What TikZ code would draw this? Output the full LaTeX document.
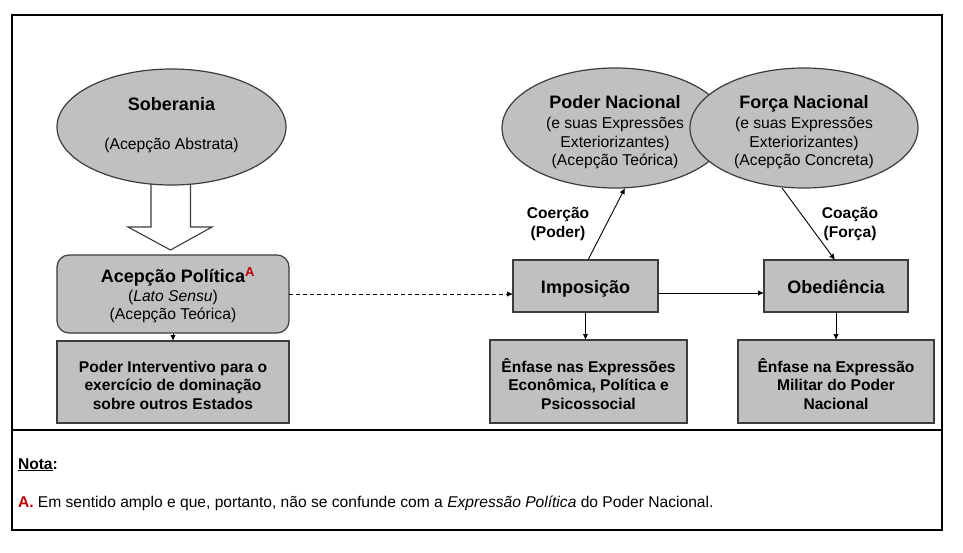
\documentclass[tikz,border=0pt]{standalone}
\usepackage{fontspec}
\setmainfont{Liberation Sans}
\usetikzlibrary{shapes.geometric,arrows.meta,calc}
\definecolor{boxgray}{HTML}{C0C0C0}
\definecolor{edgegray}{HTML}{3C3C3C}
\definecolor{notered}{HTML}{C00000}
\newcommand\ttlfont{\fontsize{18}{21}\selectfont\bfseries}
\newcommand\regfont{\fontsize{15.7}{19}\selectfont}
\newcommand\bxtfont{\fontsize{15.6}{18.5}\selectfont\bfseries}
\newcommand\notefont{\fontsize{15.6}{19}\selectfont}
\begin{document}
\begin{tikzpicture}[x=1pt,y=-1pt,
  shapebox/.style={draw=edgegray, fill=boxgray, line width=1.2pt, inner sep=0pt, outer sep=0pt},
  oval/.style={ellipse, shapebox},
  txt/.style={anchor=base, inner sep=0pt, outer sep=0pt},
  arr/.style={-{Latex[length=6pt,width=5.5pt]}, line width=0.9pt, draw=black}
]
\useasboundingbox (0,0) rectangle (963,552);
% frame
\draw[line width=1.1pt] (12,15) rectangle (942,530);
\draw[line width=1.1pt] (12,430) -- (942,430);

% hollow arrow
\draw[draw=edgegray, fill=white, line width=1.1pt] (151,178) -- (151,227) -- (128,227) -- (170.5,250) -- (212,227) -- (190.5,227) -- (190.5,178);

% shapes
\node[oval, minimum width=229pt, minimum height=116pt] (sob) at (171.5,127) {};
\node[shapebox, rounded corners=12pt, minimum width=232pt, minimum height=78pt] (acep) at (173,294) {};
\node[shapebox, minimum width=232pt, minimum height=82pt] (pi) at (173,382) {};
\node[shapebox, minimum width=145pt, minimum height=52pt] (imp) at (585.5,286) {};
\node[shapebox, minimum width=144pt, minimum height=52pt] (obe) at (836,286) {};
\node[shapebox, minimum width=197pt, minimum height=83pt] (e1) at (588.5,381.5) {};
\node[shapebox, minimum width=196pt, minimum height=83pt] (e2) at (836,381.5) {};
\node[oval, minimum width=226pt, minimum height=120pt] (pn) at (615,128) {};
\node[oval, minimum width=228pt, minimum height=120pt] (fn) at (804,128) {};

% texts
\node[txt] (sobt) at (171.5,110) {\ttlfont Soberania};
\node[txt] (sobs) at (171.5,149) {\regfont (Acepção Abstrata)};

\node[txt] (acept) at (173,282) {\ttlfont Acepção Política\rlap{\raisebox{6pt}{\fontsize{13}{13}\selectfont\bfseries\color{notered}A}}};
\node[txt] (aceps) at (173,301) {\regfont (\textit{Lato Sensu})};
\node[txt] (acepu) at (173,319) {\regfont (Acepção Teórica)};

\node[txt] (pia) at (173,372) {\bxtfont Poder Interventivo para o};
\node[txt] (pib) at (173,390.5) {\bxtfont exercício de dominação};
\node[txt] (pic) at (173,409) {\bxtfont sobre outros Estados};

\node[txt] (impt) at (585.5,293) {\ttlfont Imposição};
\node[txt] (obet) at (836,293) {\ttlfont Obediência};

\node[txt] (e1a) at (588.5,372) {\bxtfont Ênfase nas Expressões};
\node[txt] (e1b) at (588.5,390.5) {\bxtfont Econômica, Política e};
\node[txt] (e1c) at (588.5,409) {\bxtfont Psicossocial};

\node[txt] (e2a) at (836,372) {\bxtfont Ênfase na Expressão};
\node[txt] (e2b) at (836,390.5) {\bxtfont Militar do Poder};
\node[txt] (e2c) at (836,409) {\bxtfont Nacional};

\node[txt] (pna) at (615,108) {\ttlfont Poder Nacional};
\node[txt] (pnb) at (615,128) {\regfont (e suas Expressões};
\node[txt] (pnc) at (615,147) {\regfont Exteriorizantes)};
\node[txt] (pnd) at (615,165) {\regfont (Acepção Teórica)};

\node[txt] (fna) at (804,108) {\ttlfont Força Nacional};
\node[txt] (fnb) at (804,128) {\regfont (e suas Expressões};
\node[txt] (fnc) at (804,147) {\regfont Exteriorizantes)};
\node[txt] (fnd) at (804,165) {\regfont (Acepção Concreta)};

\node[txt] (coa) at (558,218) {\bxtfont Coerção};
\node[txt] (cob) at (558,237) {\bxtfont (Poder)};
\node[txt] (cfa) at (850,218) {\bxtfont Coação};
\node[txt] (cfb) at (850,237) {\bxtfont (Força)};

\node[txt, anchor=base west] (nota) at (18,469) {\notefont\bfseries\underline{Nota}:};
\node[txt, anchor=base west] (notea) at (18,507) {\notefont{\color{notered}\bfseries A.} Em sentido amplo e que, portanto, não se confunde com a \textit{Expressão Política} do Poder Nacional.};

% connectors
\draw[arr] (acep.south) -- (pi.north);
\draw[arr, dash pattern=on 4pt off 3pt] (acep.east) -- (acep.east -| imp.west);
\draw[arr] ([yshift=-7pt]imp.east) -- ([yshift=-7pt]obe.west);
\draw[arr] (imp.south) -- (imp.south |- e1.north);
\draw[arr] (obe.south) -- (e2.north);
\draw[arr] ([xshift=2.5pt]imp.north) -- ([xshift=10pt]pn.south);
\draw[arr] ([xshift=-22pt]fn.south) -- ([xshift=-1pt]obe.north);
\end{tikzpicture}
\end{document}
